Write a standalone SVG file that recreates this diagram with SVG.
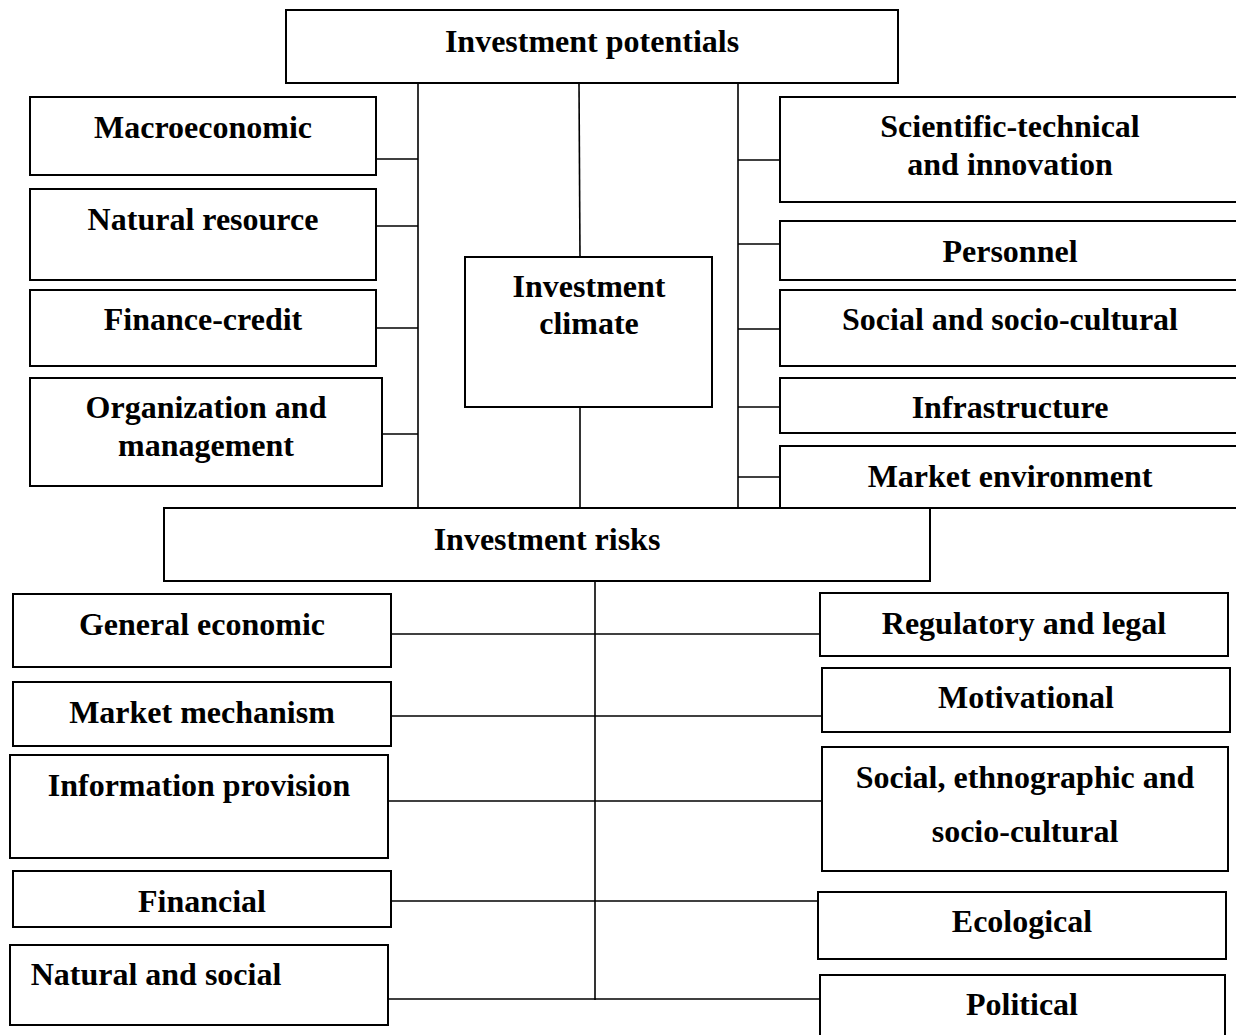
<svg xmlns="http://www.w3.org/2000/svg" width="1236" height="1035" viewBox="0 0 1236 1035">
<style>
rect{fill:#fff;stroke:#000;stroke-width:2}
text{font-family:"Liberation Serif","Times New Roman",serif;font-weight:bold;font-size:32px;text-anchor:middle;fill:#000}
.c line{stroke:#000;stroke-width:1.6}
</style>
<rect x="0" y="0" width="1236" height="1035" style="stroke:none"/>
<g class="c" id="connectors">
<line x1="418" y1="83" x2="418" y2="508"/>
<line x1="738" y1="83" x2="738" y2="508"/>
<line x1="579" y1="83" x2="580" y2="257"/>
<line x1="580" y1="407" x2="580" y2="508"/>
<line x1="376" y1="159" x2="418" y2="159"/>
<line x1="376" y1="226" x2="418" y2="226"/>
<line x1="376" y1="328" x2="418" y2="328"/>
<line x1="382" y1="434" x2="418" y2="434"/>
<line x1="738" y1="160" x2="780" y2="160"/>
<line x1="738" y1="244" x2="780" y2="244"/>
<line x1="738" y1="329" x2="780" y2="329"/>
<line x1="738" y1="407" x2="780" y2="407"/>
<line x1="738" y1="477" x2="780" y2="477"/>
<line x1="595" y1="581" x2="595" y2="1000"/>
<line x1="391" y1="634" x2="820" y2="634"/>
<line x1="391" y1="716" x2="822" y2="716"/>
<line x1="388" y1="801" x2="822" y2="801"/>
<line x1="388" y1="901" x2="820" y2="901"/>
<line x1="388" y1="999" x2="820" y2="999"/>
</g>
<g id="potentials"><rect x="286" y="10" width="612" height="73"/><text x="592" y="52">Investment potentials</text></g>
<g id="macro"><rect x="30" y="97" width="346" height="78"/><text x="203" y="138">Macroeconomic</text></g>
<g id="natres"><rect x="30" y="189" width="346" height="91"/><text x="203" y="230">Natural resource</text></g>
<g id="fincred"><rect x="30" y="290" width="346" height="76"/><text x="203" y="330">Finance-credit</text></g>
<g id="orgman"><rect x="30" y="378" width="352" height="108"/><text x="206" y="418">Organization and</text><text x="206" y="456">management</text></g>
<g id="climate"><rect x="465" y="257" width="247" height="150"/><text x="589" y="297">Investment</text><text x="589" y="334">climate</text></g>
<g id="scitech"><rect x="780" y="97" width="480" height="105"/><text x="1010" y="137">Scientific-technical</text><text x="1010" y="175">and innovation</text></g>
<g id="personnel"><rect x="780" y="221" width="480" height="59"/><text x="1010" y="262">Personnel</text></g>
<g id="social"><rect x="780" y="290" width="480" height="76"/><text x="1010" y="330">Social and socio-cultural</text></g>
<g id="infra"><rect x="780" y="378" width="480" height="55"/><text x="1010" y="418">Infrastructure</text></g>
<g id="marketenv"><rect x="780" y="446" width="480" height="62"/><text x="1010" y="487">Market environment</text></g>
<g id="risks"><rect x="164" y="508" width="766" height="73"/><text x="547" y="550">Investment risks</text></g>
<g id="geneco"><rect x="13" y="594" width="378" height="73"/><text x="202" y="635">General economic</text></g>
<g id="marketmech"><rect x="13" y="682" width="378" height="64"/><text x="202" y="723">Market mechanism</text></g>
<g id="info"><rect x="10" y="755" width="378" height="103"/><text x="199" y="796">Information provision</text></g>
<g id="financial"><rect x="13" y="871" width="378" height="56"/><text x="202" y="912">Financial</text></g>
<g id="natsoc"><rect x="10" y="945" width="378" height="80"/><text x="156" y="985">Natural and social</text></g>
<g id="regulatory"><rect x="820" y="593" width="408" height="63"/><text x="1024" y="634">Regulatory and legal</text></g>
<g id="motiv"><rect x="822" y="668" width="408" height="64"/><text x="1026" y="708">Motivational</text></g>
<g id="ethno"><rect x="822" y="747" width="406" height="124"/><text x="1025" y="788">Social, ethnographic and</text><text x="1025" y="842">socio-cultural</text></g>
<g id="eco"><rect x="818" y="892" width="408" height="67"/><text x="1022" y="932">Ecological</text></g>
<g id="political"><rect x="820" y="975" width="405" height="70"/><text x="1022" y="1015">Political</text></g>
</svg>
